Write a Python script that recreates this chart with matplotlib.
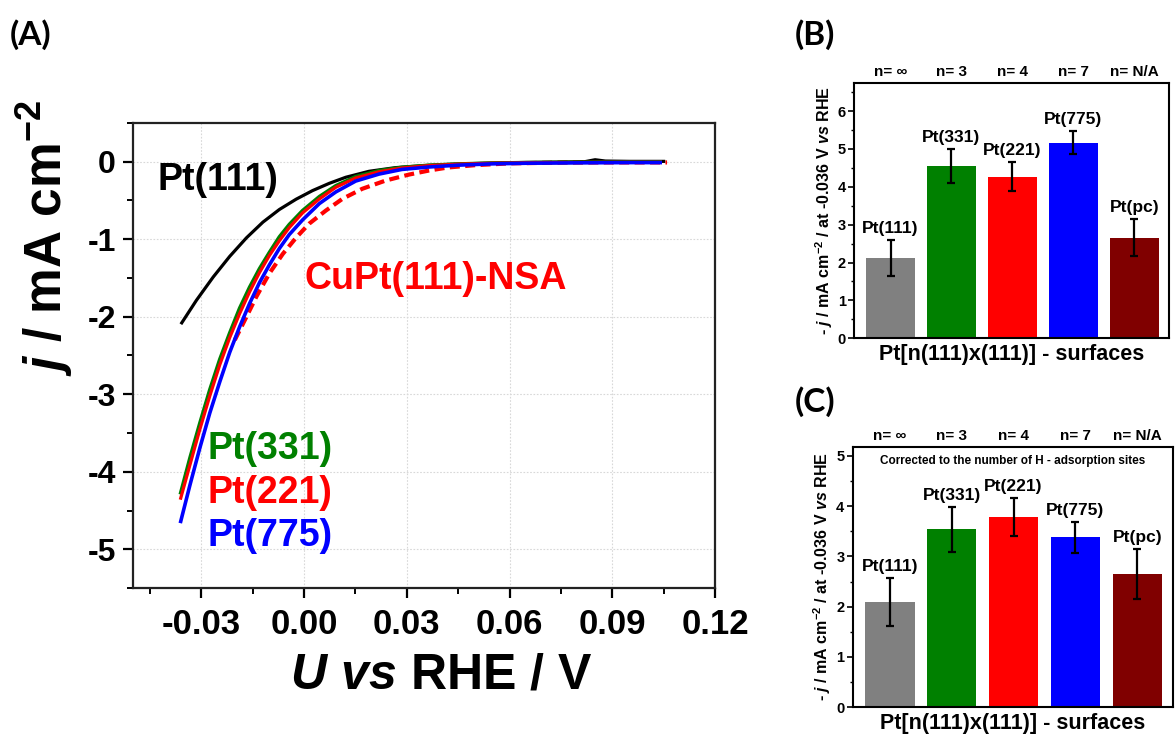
import matplotlib
matplotlib.use("Agg")
import matplotlib.pyplot as plt
from matplotlib.ticker import MultipleLocator, FixedLocator

plt.rcParams['font.family'] = ['Liberation Sans', 'DejaVu Sans']
plt.rcParams['font.weight'] = 'bold'
plt.rcParams['axes.unicode_minus'] = False
plt.rcParams['mathtext.fontset'] = 'custom'
plt.rcParams['mathtext.rm'] = 'Liberation Sans:bold'
plt.rcParams['mathtext.it'] = 'Liberation Sans:italic:bold'
plt.rcParams['mathtext.bf'] = 'Liberation Sans:bold'

# ---- (A) polarisation curves -------------------------------------------
U_pt111 = [-0.0357, -0.0314, -0.0265, -0.0217, -0.0168, -0.0120, -0.0072, -0.0023,
           0.0025, 0.0074, 0.0122, 0.0190, 0.0267, 0.0364, 0.045, 0.055, 0.065,
           0.075, 0.082, 0.085, 0.088, 0.095, 0.105]
j_pt111 = [-2.079, -1.787, -1.487, -1.222, -0.982, -0.780, -0.617, -0.484,
           -0.373, -0.279, -0.201, -0.124, -0.077, -0.047, -0.030, -0.018, -0.010,
           -0.005, 0.000, 0.025, 0.008, 0.004, 0.004]

U_stepped = [-0.0360, -0.0333, -0.0304, -0.0275, -0.0246, -0.0217, -0.0188, -0.0159,
             -0.0130, -0.0101, -0.0072, -0.0043, -0.0004, 0.0045, 0.0093, 0.0151,
             0.0219, 0.0286, 0.0364, 0.045, 0.055, 0.065, 0.080, 0.095, 0.104]
j_pt331 = [-4.27, -3.82, -3.37, -2.94, -2.55, -2.21, -1.89, -1.62, -1.38, -1.17,
           -0.97, -0.81, -0.63, -0.45, -0.31, -0.193, -0.116, -0.073, -0.047,
           -0.030, -0.018, -0.012, -0.008, -0.005, -0.005]
j_pt221 = [-4.34, -3.91, -3.45, -3.02, -2.62, -2.27, -1.96, -1.68, -1.43, -1.21,
           -1.02, -0.85, -0.66, -0.48, -0.33, -0.21, -0.13, -0.081, -0.051,
           -0.032, -0.020, -0.014, -0.010, -0.008, -0.008]
j_pt775 = [-4.64, -4.17, -3.69, -3.24, -2.84, -2.46, -2.13, -1.83, -1.56, -1.33,
           -1.12, -0.94, -0.75, -0.54, -0.39, -0.25, -0.16, -0.10, -0.069,
           -0.045, -0.028, -0.020, -0.015, -0.012, -0.012]

U_nsa = [-0.0202, -0.0168, -0.0139, -0.0101, -0.0062, -0.0023, 0.0015, 0.0064,
         0.0112, 0.0170, 0.0238, 0.0306, 0.0364, 0.042, 0.050, 0.060, 0.075,
         0.090, 0.106]
j_nsa = [-2.30, -2.00, -1.74, -1.44, -1.19, -0.98, -0.80, -0.63, -0.48, -0.35,
         -0.244, -0.167, -0.115, -0.075, -0.045, -0.022, -0.012, -0.010, -0.010]

x_ticks = [-0.03, 0.00, 0.03, 0.06, 0.09, 0.12]
x_ticklabels = ["-0.03", "0.00", "0.03", "0.06", "0.09", "0.12"]
y_ticks = [0, -1, -2, -3, -4, -5]

# ---- (B) and (C) activity bars -----------------------------------------
surfaces = ["Pt(111)", "Pt(331)", "Pt(221)", "Pt(775)", "Pt(pc)"]
terrace_n = ["n= \u221e", "n= 3", "n= 4", "n= 7", "n= N/A"]
bar_colors = ["#808080", "#008000", "#ff0000", "#0000ff", "#800000"]
j_geometric = [2.12, 4.54, 4.27, 5.17, 2.66]
j_geometric_err = [0.48, 0.45, 0.375, 0.30, 0.50]
j_hsites = [2.10, 3.54, 3.79, 3.38, 2.65]
j_hsites_err = [0.48, 0.45, 0.38, 0.305, 0.50]

fig = plt.figure(figsize=(11.75, 7.36), dpi=100)

# ------------------------------------------------------------------ (A)
axA = fig.add_axes([0.113, 0.201, 0.4955, 0.632])
axA.plot(U_nsa, j_nsa, color="#ff0000", lw=3.0, dashes=(2.4, 1.3), zorder=3)
axA.plot(U_pt111, j_pt111, color="black", lw=2.3, zorder=4)
axA.plot(U_stepped, j_pt331, color="#008000", lw=2.6, zorder=5)
axA.plot(U_stepped, j_pt221, color="#ff0000", lw=2.3, zorder=6)
axA.plot(U_stepped, j_pt775, color="#0000ff", lw=2.6, zorder=7)

axA.set_xlim(-0.05, 0.12)
axA.set_ylim(-5.5, 0.5)
axA.xaxis.set_major_locator(FixedLocator(x_ticks))
axA.set_xticklabels(x_ticklabels)
axA.xaxis.set_minor_locator(FixedLocator([-0.045, -0.015, 0.015, 0.045, 0.075, 0.105]))
axA.yaxis.set_major_locator(FixedLocator(y_ticks))
axA.yaxis.set_minor_locator(MultipleLocator(0.5))
axA.grid(True, which="major", color="#d8d8d8", ls=(0, (1.5, 1.5)), lw=0.8, zorder=0)
axA.tick_params(axis="x", which="major", labelsize=25, length=7, width=1.6, pad=7)
axA.tick_params(axis="y", which="major", labelsize=23, length=7, width=1.6, pad=5)
axA.tick_params(which="minor", length=4, width=1.4)
for s in axA.spines.values():
    s.set_linewidth(1.6)
    s.set_color("#222222")

txt_kw = dict(fontsize=27, fontweight="bold", ha="left", va="baseline")
axA.text(-0.0428, -0.37, "Pt(111)", color="black", **txt_kw)
axA.text(0.0000, -1.64, "CuPt(111)-NSA", color="#ff0000", **txt_kw)
axA.text(-0.0281, -3.84, "Pt(331)", color="#008000", **txt_kw)
axA.text(-0.0281, -4.40, "Pt(221)", color="#ff0000", **txt_kw)
axA.text(-0.0281, -4.96, "Pt(775)", color="#0000ff", **txt_kw)

fig.text(441 / 1175, 1 - 676 / 736, r"$\mathit{U\ vs}$ RHE / V", fontsize=36,
         fontweight="bold", ha="center", va="center")
fig.text(45 / 1175, 1 - 238 / 736, r"$\mathit{j}$ / mA cm$^{-2}$", fontsize=37,
         fontweight="bold", ha="center", va="center", rotation=90)


# ------------------------------------------------------------ (B) / (C)
def bar_panel(rect, values, errors, ymax, note=None):
    ax = fig.add_axes(rect)
    xs = list(range(len(surfaces)))
    ax.bar(xs, values, width=0.8, color=bar_colors, zorder=2)
    ax.errorbar(xs, values, yerr=errors, fmt="none", ecolor="black",
                elinewidth=1.6, capsize=3, capthick=1.6, zorder=3)
    for x, v, e, name in zip(xs, values, errors, surfaces):
        ax.annotate(name, xy=(x, v + e), xytext=(0, 5), textcoords="offset points",
                    ha="center", va="baseline", fontsize=12.5, fontweight="bold")
    for x, n in zip(xs, terrace_n):
        ax.annotate(n, xy=(x, 1), xycoords=("data", "axes fraction"),
                    xytext=(0, 5), textcoords="offset points", ha="center",
                    va="baseline", fontsize=11, fontweight="bold")
    if note:
        ax.text(0.5, 4.9, note, transform=ax.get_yaxis_transform(), ha="center",
                va="center", fontsize=8.5, fontweight="bold")
    ax.set_xlim(-0.6, 4.57)
    ax.set_ylim(0, ymax)
    ax.set_xticks([])
    ax.yaxis.set_major_locator(MultipleLocator(1))
    ax.yaxis.set_minor_locator(MultipleLocator(0.5))
    ax.tick_params(axis="y", which="major", labelsize=10.5, length=4, width=1.2, pad=2)
    ax.tick_params(axis="y", which="minor", length=2.5, width=1.0)
    for s in ax.spines.values():
        s.set_linewidth(1.5)
    ax.set_ylabel(r"- $\mathit{j}$ / mA cm$^{-2}$ / at -0.036 V $\mathit{vs}$ RHE",
                  fontsize=11.5, fontweight="bold", labelpad=2)
    ax.set_xlabel("Pt[n(111)x(111)] - surfaces", fontsize=15.5, fontweight="bold",
                  labelpad=4)
    return ax


bar_panel([0.7268, 0.5404, 0.2681, 0.3472], j_geometric, j_geometric_err, 6.75)
bar_panel([0.7257, 0.0390, 0.2723, 0.3540], j_hsites, j_hsites_err, 5.18,
          note="Corrected to the number of H - adsorption sites")

lab_kw = dict(fontsize=24, fontweight="bold", family=["Lato", "DejaVu Sans"],
              ha="left", va="center")
fig.text(10 / 1175, 1 - 35 / 736, "(A)", **lab_kw)
fig.text(795 / 1175, 1 - 35 / 736, "(B)", **lab_kw)
fig.text(795 / 1175, 1 - 402 / 736, "(C)", **lab_kw)

fig.savefig("out.png", dpi=100)
